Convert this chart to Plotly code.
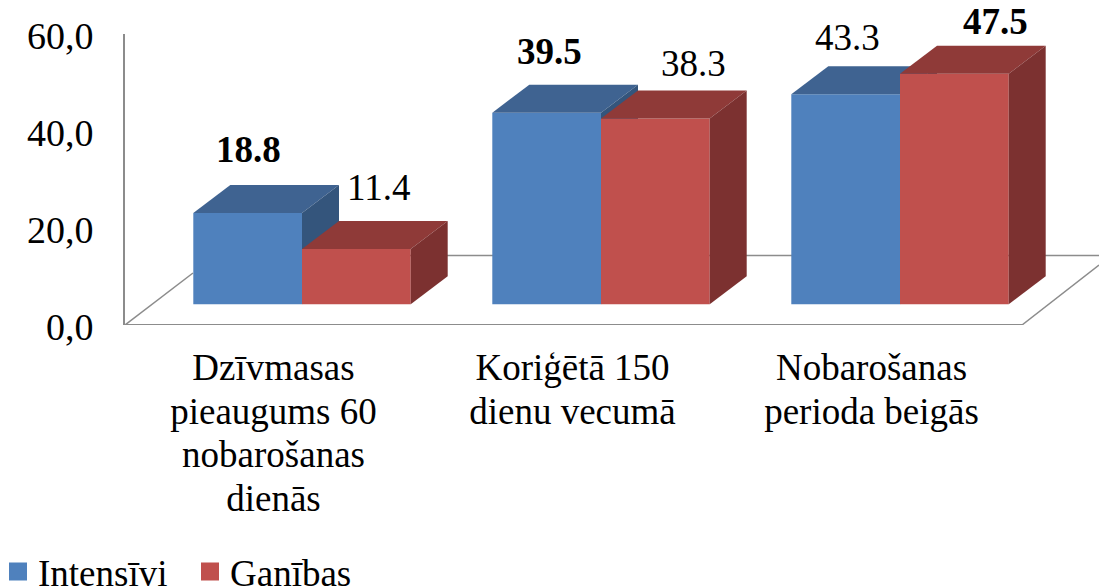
import plotly.graph_objects as go

categories = ["Dzīvmasas<br>pieaugums 60<br>nobarošanas<br>dienās", "Koriģētā 150<br>dienu vecumā", "Nobarošanas<br>perioda beigās"]
intensivi = [18.8, 39.5, 43.3]
ganibas = [11.4, 38.3, 47.5]
bold_intensivi = [True, True, False]
bold_ganibas = [False, False, True]
y_ticks = [0, 20, 40, 60]
y_tick_labels = ["0,0", "20,0", "40,0", "60,0"]

# 3D projection constants
W, H = 1099, 588
L, T, B = 125, 34, 325
PX_X = 299.0
PX_Y = (B - T) / 60
X0 = (L - 302) / PX_X
X1 = (W - 302) / PX_X
BAR = 108.7 / PX_X
BASE = (B + 0.5 - 304.7) / PX_Y
DX = 37 / PX_X
DY = 28 / PX_Y
FONT = "Liberation Serif"
GRAY = "#8c8c8c"
pos = list(range(len(categories)))

BLUE, BLUE_TOP, BLUE_SIDE = "#4F81BD", "#3F6391", "#34557C"
RED, RED_TOP, RED_SIDE = "#C0504D", "#8F3A38", "#7C3130"


def faces(fig, values, left_off, top_col, side_col, ax):
    for p, v in zip(pos, values):
        xl, xr = p + left_off, p + left_off + BAR
        top = BASE + v
        fig.add_trace(go.Scatter(
            x=[xl, xl + DX, xr + DX, xr, xl], y=[top, top + DY, top + DY, top, top],
            fill="toself", fillcolor=top_col, mode="lines", line=dict(width=0),
            showlegend=False, hoverinfo="skip", xaxis=ax[0], yaxis=ax[1]))
        fig.add_trace(go.Scatter(
            x=[xr, xr + DX, xr + DX, xr, xr], y=[top, top + DY, BASE + DY, BASE, top],
            fill="toself", fillcolor=side_col, mode="lines", line=dict(width=0),
            showlegend=False, hoverinfo="skip", xaxis=ax[0], yaxis=ax[1]))


fig = go.Figure()
fig.add_trace(go.Bar(x=pos, y=intensivi, base=BASE, width=BAR, offset=-BAR, marker=dict(color=BLUE, line=dict(width=0)),
                     showlegend=False, xaxis="x", yaxis="y"))
faces(fig, intensivi, -BAR, BLUE_TOP, BLUE_SIDE, ("x", "y"))
fig.add_trace(go.Bar(x=pos, y=ganibas, base=BASE, width=BAR, offset=0, marker=dict(color=RED, line=dict(width=0)),
                     showlegend=False, xaxis="x2", yaxis="y2"))
faces(fig, ganibas, 0, RED_TOP, RED_SIDE, ("x2", "y2"))

# legend entries
for name, col in (("Intensīvi", BLUE), ("Ganības", RED)):
    fig.add_trace(go.Scatter(x=[None], y=[None], mode="markers", name=name,
                             marker=dict(symbol="square", size=16, color=col, line=dict(width=2, color=col))))

# floor
back_y = (B - 255.5) / PX_Y
floor_x1 = (1022 - 302) / PX_X
back_x0 = (195 - 302) / PX_X
shapes = []
for x0, y0, x1, y1 in [
    (X0, 0, floor_x1, 0),
    (X0, 0, X0 + 68 / PX_X, 52 / PX_Y),
    (floor_x1, 0, X1, 60 / PX_Y),
    (back_x0, back_y, X1, back_y),
]:
    shapes.append(dict(type="line", xref="x", yref="y", x0=x0, y0=y0, x1=x1, y1=y1, layer="below",
                       line=dict(color=GRAY, width=2 if y0 == y1 and y0 == 0 else 1.5)))

# data labels
annotations = []
for p, v, b, sx, sy in zip(pos, intensivi, bold_intensivi, [-54, -52, -53], [36, 33, 29]):
    annotations.append(dict(x=p, y=BASE + v + DY, text=f"<b>{v}</b>" if b else f"{v}", showarrow=False,
                            xshift=sx, yshift=sy, font=dict(family=FONT, size=37, color="black")))
for p, v, b, sx, sy in zip(pos, ganibas, bold_ganibas, [76, 92, 95], [33, 27, 24]):
    annotations.append(dict(x=p, y=BASE + v + DY, text=f"<b>{v}</b>" if b else f"{v}", showarrow=False,
                            xshift=sx, yshift=sy, font=dict(family=FONT, size=37, color="black")))

# tick text: 37 px glyphs on the reference's tighter line pitch
tick_text = ["<br>".join(f'<span style="font-size:37px">{ln}</span>' for ln in c.split("<br>")) for c in categories]

fig.update_layout(
    width=W, height=H, margin=dict(l=L, r=0, t=T, b=H - B, autoexpand=False),
    paper_bgcolor="white", plot_bgcolor="white",
    font=dict(family=FONT, color="black", size=35),
    showlegend=True,
    legend=dict(orientation="h", x=-(L + 2) / (W - L), y=-(541 - B) / (B - T), xanchor="left", yanchor="top",
                font=dict(family=FONT, size=37), itemsizing="trace", bgcolor="rgba(0,0,0,0)",
                entrywidth=147, entrywidthmode="pixels", tracegroupgap=0),
    shapes=shapes, annotations=annotations,
    xaxis=dict(range=[X0, X1], showgrid=False, zeroline=False, showline=False,
               tickmode="array", tickvals=[p - 28.5 / PX_X for p in pos], ticktext=tick_text,
               ticks="outside", ticklen=14, tickcolor="rgba(0,0,0,0)", tickfont=dict(family=FONT, size=33.5)),
    yaxis=dict(range=[0, 60], showgrid=False, zeroline=False, showline=True, linecolor=GRAY, linewidth=2,
               tickmode="array", tickvals=y_ticks, ticktext=y_tick_labels, ticklabelshift=2,
               ticks="outside", ticklen=22, tickcolor="rgba(0,0,0,0)", tickfont=dict(family=FONT, size=38)),
    xaxis2=dict(range=[X0, X1], overlaying="x", visible=False),
    yaxis2=dict(range=[0, 60], overlaying="y", visible=False),
)
fig.write_html("out.html", config=dict(displayModeBar=False),
               post_script="document.body.style.margin='0';")
